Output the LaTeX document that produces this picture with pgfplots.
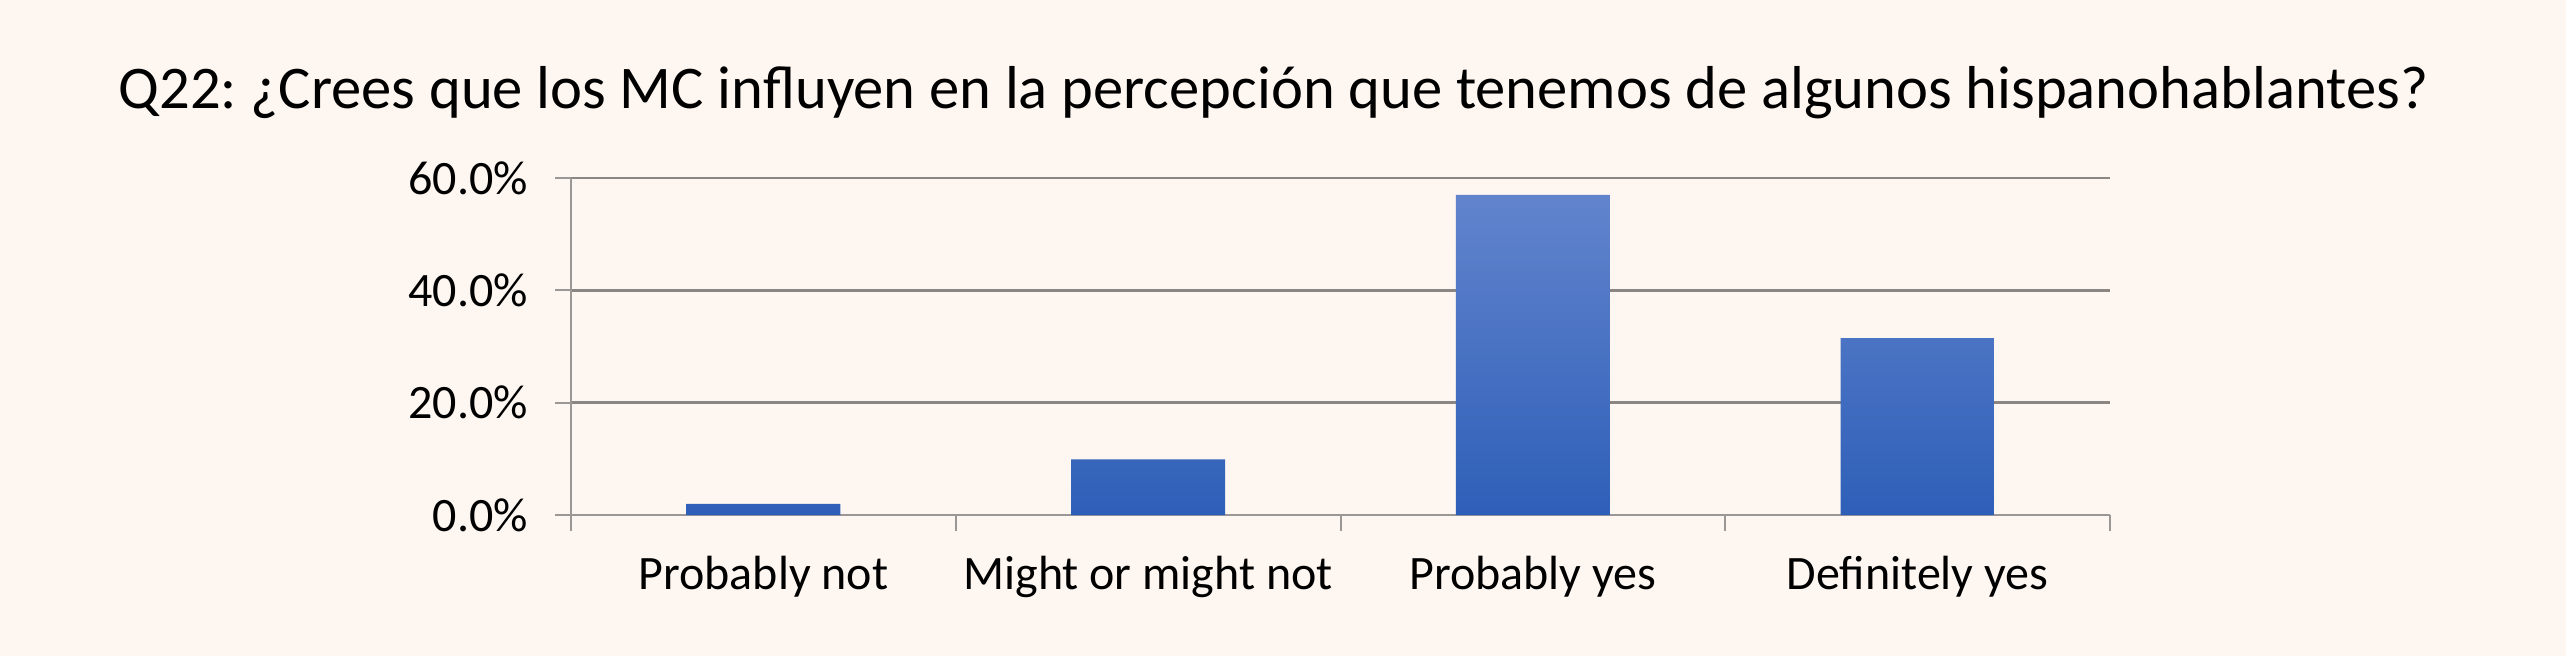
\documentclass[border=0pt]{standalone}
\usepackage{fontspec}
\setmainfont{Carlito}
\usepackage{pgfplots}
\pgfplotsset{compat=1.18}
\definecolor{bg}{HTML}{FDF6F1}
\definecolor{bartop}{HTML}{6284CD}
\definecolor{barbot}{HTML}{2E5FB8}
\definecolor{gridc}{HTML}{8A8684}
\definecolor{axc}{HTML}{9A9896}
\frenchspacing
\begin{document}
\begin{tikzpicture}
\path[use as bounding box, fill=bg] (0,0) rectangle (641.5pt,164pt);
\node[anchor=base, font=\fontsize{15.15}{18}\selectfont] at (318.4pt,137pt)
  {Q22: ¿Crees que los MC influyen en la percepción que tenemos de algunos hispanohablantes?};
\begin{axis}[
  at={(142.75pt,35.25pt)}, anchor=south west,
  width=384.75pt, height=84.25pt, scale only axis,
  xmin=-0.5, xmax=3.5, ymin=0, ymax=60,
  axis x line*=bottom, axis y line*=left,
  axis line style={draw=axc, line width=0.5pt},
  xtick={-0.5,0.5,1.5,2.5,3.5},
  x tick label as interval,
  xticklabels={Probably not,Might or might not,Probably yes,Definitely yes},
  xticklabel style={yshift=-2.9pt},
  ytick={0,20,40,60},
  yticklabels={0.0\%,20.0\%,40.0\%,60.0\%},
  yticklabel style={xshift=-3.3pt},
  ymajorgrids,
  grid style={draw=gridc, line width=0.6pt},
  tick align=outside,
  major tick length=3.9pt,
  tick style={draw=axc, line width=0.5pt},
  ticklabel style={font=\fontsize{12}{14}\selectfont},
  ybar, bar width=0.4,
]
\addplot[draw=none, top color=bartop, bottom color=barbot] coordinates {(0,2.0) (1,9.9) (2,57.0) (3,31.5)};
\end{axis}
\end{tikzpicture}
\end{document}
